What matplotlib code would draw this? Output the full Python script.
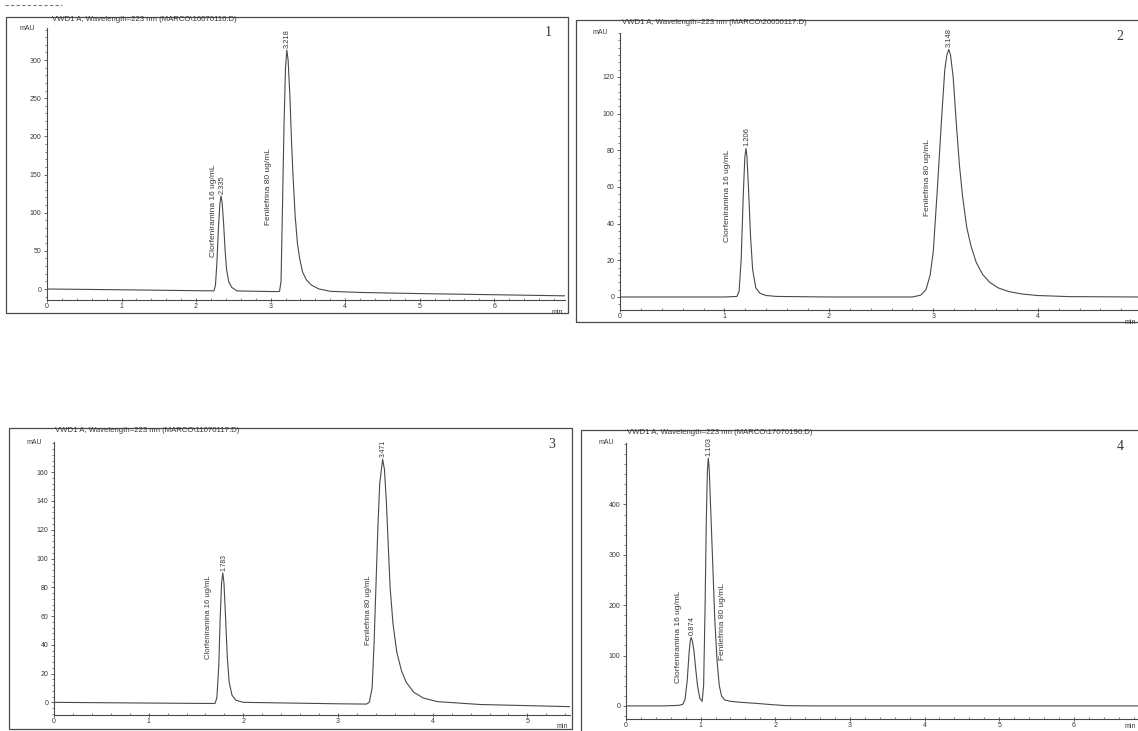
import matplotlib.pyplot as plt
from matplotlib.lines import Line2D
from matplotlib.patches import Rectangle
from matplotlib.ticker import MultipleLocator, AutoMinorLocator

plt.rcParams['font.family'] = ['Liberation Sans', 'DejaVu Sans']

nombres = ['Clorfeniramina 16 ug/mL', 'Fenilefrina 80 ug/mL']

titulo_1 = 'VWD1 A, Wavelength=223 nm (MARCO\\16070116.D)'
tiempo_1 = [0.0, 1.0, 2.0, 2.24, 2.26, 2.28, 2.30, 2.32, 2.335, 2.35, 2.37, 2.39, 2.41, 2.44,
            2.48, 2.55, 3.0, 3.10, 3.12, 3.14, 3.16, 3.18, 3.20, 3.218, 3.235, 3.26, 3.28,
            3.30, 3.33, 3.36, 3.39, 3.43, 3.48, 3.55, 3.65, 3.8, 4.2, 5.0, 6.0, 7.0]
senal_1 = [0.0, -1.0, -2.2, -2.4, 5, 35, 80, 112, 122, 113, 85, 50, 25, 9,
           2, -2.5, -3.3, -3.4, -3, 10, 110, 215, 290, 313, 300, 250, 195,
           150, 95, 60, 40, 22, 12, 5, 0, -3, -4.5, -6, -7.5, -9]
tr_1 = [2.335, 3.218]
ticks_y_1 = [0, 50, 100, 150, 200, 250, 300]

titulo_2 = 'VWD1 A, Wavelength=223 nm (MARCO\\20050117.D)'
tiempo_2 = [0.0, 1.0, 1.12, 1.14, 1.16, 1.18, 1.195, 1.206, 1.215, 1.23, 1.25, 1.27, 1.30,
            1.34, 1.40, 1.50, 2.0, 2.8, 2.88, 2.93, 2.97, 3.00, 3.04, 3.08, 3.11, 3.13,
            3.148, 3.165, 3.19, 3.22, 3.25, 3.28, 3.32, 3.36, 3.41, 3.47, 3.54, 3.62,
            3.72, 3.85, 4.0, 4.3, 4.96]
senal_2 = [0, 0, 0.3, 3, 20, 55, 76, 81, 77, 60, 33, 15, 5,
           2, 0.8, 0.3, 0, 0, 1, 4, 12, 25, 60, 98, 124, 132,
           135, 132, 120, 95, 72, 55, 38, 28, 19, 12.5, 8, 5,
           3, 1.6, 0.8, 0.2, 0]
tr_2 = [1.206, 3.148]
ticks_y_2 = [0, 20, 40, 60, 80, 100, 120]

titulo_3 = 'VWD1 A, Wavelength=223 nm (MARCO\\11070117.D)'
tiempo_3 = [0.0, 1.0, 1.70, 1.72, 1.74, 1.755, 1.77, 1.783, 1.795, 1.81, 1.83, 1.85, 1.88,
            1.92, 2.0, 2.5, 3.0, 3.30, 3.33, 3.36, 3.38, 3.40, 3.42, 3.44, 3.471, 3.49,
            3.51, 3.53, 3.55, 3.58, 3.62, 3.67, 3.72, 3.80, 3.90, 4.05, 4.5, 5.45]
senal_3 = [0, -0.5, -0.8, 3, 25, 58, 83, 90, 83, 62, 32, 14, 5,
           1.5, 0, -0.5, -1, -1.2, 0, 10, 40, 80, 120, 152, 169, 162,
           140, 110, 80, 55, 35, 22, 14, 7, 3, 0.5, -1.5, -3]
tr_3 = [1.783, 3.471]
ticks_y_3 = [0, 20, 40, 60, 80, 100, 120, 140, 160]

titulo_4 = 'VWD1 A, Wavelength=223 nm (MARCO\\17070196.D)'
tiempo_4 = [0.0, 0.5, 0.70, 0.76, 0.79, 0.82, 0.845, 0.862, 0.874, 0.89, 0.91, 0.935, 0.96,
            0.99, 1.02, 1.04, 1.06, 1.075, 1.09, 1.103, 1.115, 1.13, 1.15, 1.17, 1.19,
            1.22, 1.25, 1.28, 1.32, 1.40, 1.55, 1.75, 1.95, 2.15, 2.5, 6.86]
senal_4 = [0, 0, 1, 3, 12, 50, 105, 130, 136, 128, 110, 72, 38,
           15, 9, 40, 200, 360, 465, 492, 470, 410, 330, 250, 170,
           90, 40, 20, 12, 9, 7, 5, 2.5, 0.5, 0, 0]
tr_4 = [0.874, 1.103]
ticks_y_4 = [0, 100, 200, 300, 400]

# --- ESTILO / DISPOSICION (en pixeles de la imagen) ---
W, H = 1138, 731
GRIS = '#4a4a4a'
TXT = '#383838'

paneles = [
    dict(num='1', titulo=titulo_1, t=tiempo_1, y=senal_1, tr=tr_1, yt=ticks_y_1,
         caja=(47, 28, 565, 300), marco=(6, 17, 568, 313),
         xlim=(0, 6.95), ylim=(-14.4, 342), fs=6.0,
         pos_nombres=[(2.23, 42), (2.97, 84)]),
    dict(num='2', titulo=titulo_2, t=tiempo_2, y=senal_2, tr=tr_2, yt=ticks_y_2,
         caja=(620, 33, 1138, 310), marco=(576, 20, 1140, 322),
         xlim=(0, 4.96), ylim=(-7.1, 144), fs=6.0,
         pos_nombres=[(1.03, 30), (2.94, 44)]),
    dict(num='3', titulo=titulo_3, t=tiempo_3, y=senal_3, tr=tr_3, yt=ticks_y_3,
         caja=(54, 442, 570, 715), marco=(9, 428, 572, 729),
         xlim=(0, 5.45), ylim=(-8.8, 181), fs=5.5,
         pos_nombres=[(1.63, 30), (3.32, 40)]),
    dict(num='4', titulo=titulo_4, t=tiempo_4, y=senal_4, tr=tr_4, yt=ticks_y_4,
         caja=(626, 443, 1138, 719), marco=(581, 430, 1140, 733),
         xlim=(0, 6.86), ylim=(-26, 522), fs=6.0,
         pos_nombres=[(0.71, 46), (1.29, 92)]),
]


def fx(x):
    return x / W


def fy(y):
    return 1 - y / H


fig = plt.figure(figsize=(W / 100, H / 100), dpi=100)
fig.patch.set_facecolor('white')

# rayitas sueltas arriba a la izquierda (restos del escaneo)
fig.add_artist(Line2D([fx(5), fx(62)], [fy(5), fy(5)], color='#777777', lw=0.8,
                      ls=(0, (3, 2)), transform=fig.transFigure))

for p in paneles:
    # marco exterior del reporte
    x0, y0, x1, y1 = p['marco']
    fig.add_artist(Rectangle((fx(x0), fy(y1)), fx(x1 - x0), (y1 - y0) / H,
                             transform=fig.transFigure, fill=False, lw=0.9, ec=GRIS))

    a0, b0, a1, b1 = p['caja']
    ax = fig.add_axes([fx(a0), fy(b1), fx(a1 - a0), (b1 - b0) / H])
    ax.patch.set_alpha(0)
    ax.plot(p['t'], p['y'], color=GRIS, lw=0.8)
    ax.set_xlim(*p['xlim'])
    ax.set_ylim(*p['ylim'])

    for s in ['top', 'right']:
        ax.spines[s].set_visible(False)
    for s in ['left', 'bottom']:
        ax.spines[s].set_color(GRIS)
        ax.spines[s].set_linewidth(0.8)

    ax.xaxis.set_major_locator(MultipleLocator(1))
    ax.xaxis.set_minor_locator(AutoMinorLocator(5))
    ax.set_yticks(p['yt'])
    ax.yaxis.set_minor_locator(AutoMinorLocator(5))
    ax.tick_params(axis='x', which='major', direction='inout', length=3, width=0.6,
                   color=GRIS, labelsize=5, labelcolor=TXT, pad=1)
    ax.tick_params(axis='x', which='minor', direction='in', length=1.5, width=0.5, color=GRIS)
    ax.tick_params(axis='y', which='major', direction='out', length=2.5, width=0.6,
                   color=GRIS, labelsize=5, labelcolor=TXT, pad=1.5)
    ax.tick_params(axis='y', which='minor', direction='out', length=1.2, width=0.5, color=GRIS)

    # tiempos de retencion sobre cada pico
    for tr in p['tr']:
        alto = max(v for t, v in zip(p['t'], p['y']) if abs(t - tr) < 0.02)
        ax.annotate(f'{tr:.3f}', (tr, alto), xytext=(0.5, 1.5), textcoords='offset points',
                    rotation=90, ha='center', va='bottom', fontsize=p['fs'] - 0.6, color=TXT)

    # nombres de los compuestos
    for nombre, (xn, yn) in zip(nombres, p['pos_nombres']):
        ax.text(xn, yn, nombre, rotation=90, ha='center', va='bottom',
                fontsize=p['fs'], color=TXT)

    # textos del encabezado
    fig.text(fx(x0 + 46), fy(y0 - 1), p['titulo'], fontsize=5.6, color=TXT, va='top')
    fig.text(fx(a0 - 20), fy(b0), 'mAU', fontsize=5, color=TXT, ha='center', va='center')
    fig.text(fx(a1 - 8), fy(min(b1 + 12, H - 4)), 'min', fontsize=5, color=TXT,
             ha='center', va='center')
    fig.text(fx(x1 - 20), fy(y0 + 16), p['num'], fontsize=10, color=TXT,
             family='Liberation Serif', ha='center', va='center')

fig.savefig('out.png', dpi=100, facecolor='white')
